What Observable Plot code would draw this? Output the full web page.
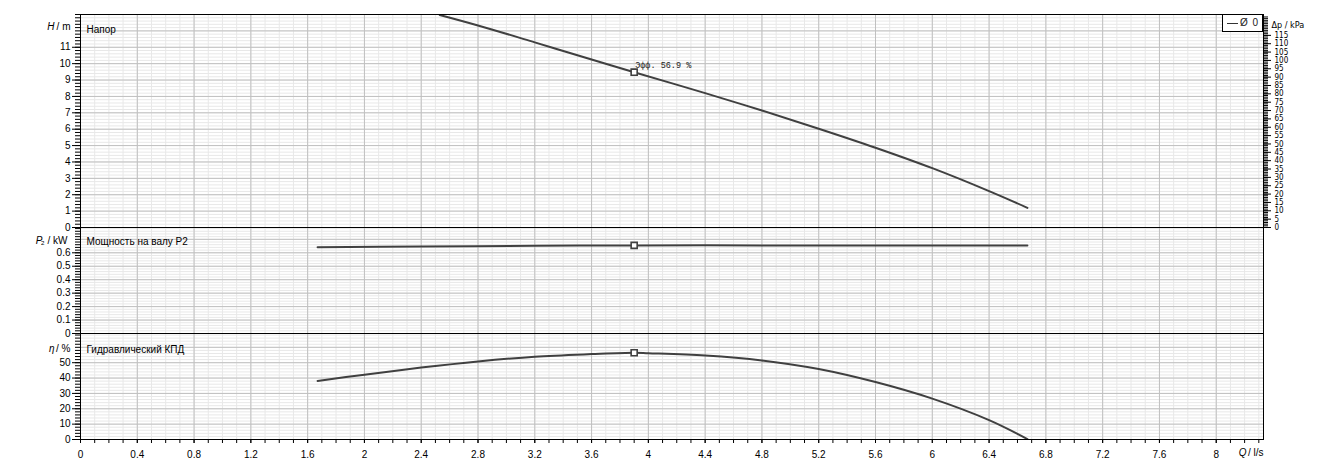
<!DOCTYPE html>
<html><head><meta charset="utf-8">
<script src="https://cdn.jsdelivr.net/npm/d3@7"></script>
<script src="https://cdn.jsdelivr.net/npm/@observablehq/plot@0.6"></script>
<style>
body{margin:0;background:#fff;}
#wrap{position:relative;width:1344px;height:473px;overflow:hidden;}
#wrap svg{display:block;}
#legend{position:absolute;z-index:5;left:1222px;top:14px;width:41px;height:18px;border:1px solid #000;box-sizing:border-box;background:#fff;font:10px "Liberation Sans",Arial,sans-serif;color:#222;}
#legend .ln{position:absolute;left:4px;top:8px;width:11px;height:0;border-top:1px solid #333;}
#legend .tx{position:absolute;left:17px;top:2px;letter-spacing:1px;}
</style></head>
<body>
<div id="wrap"><div id="legend"><span class="ln"></span><span class="tx">Ø 0</span></div></div>
<script>
// ---- data ----
const Q_MAX = 8.333;
const H_MAX = 13;
const P_MAX = 0.788;
const ETA_MAX = 69;
const KPA_PER_M = 9.80665;

const headQ = [2.53, 2.8, 3.2, 3.6, 3.9, 4.4, 4.8, 5.2, 5.6, 6.0, 6.4, 6.67];
const headH = [12.97, 12.33, 11.3, 10.25, 9.48, 8.2, 7.14, 6.03, 4.87, 3.62, 2.22, 1.2];
const powerQ = [1.67, 2.4, 3.2, 3.9, 4.8, 5.6, 6.67];
const powerP = [0.642, 0.647, 0.652, 0.655, 0.655, 0.655, 0.654];
const effQ = [1.67, 2.0, 2.4, 2.8, 3.2, 3.6, 3.9, 4.0, 4.4, 4.8, 5.2, 5.6, 6.0, 6.4, 6.67];
const effEta = [38.1, 42.2, 46.8, 50.8, 53.9, 55.6, 56.5, 56.2, 54.7, 51.5, 45.9, 37.4, 26.6, 12.6, 0.3];
const dutyQ = [3.9];
const dutyH = [9.48];
const dutyP = [0.655];
const dutyEta = [56.5];
const dutyLabel = "Эфф. 56.9 %";

const qTicks = [0, 0.4, 0.8, 1.2, 1.6, 2, 2.4, 2.8, 3.2, 3.6, 4, 4.4, 4.8, 5.2, 5.6, 6, 6.4, 6.8, 7.2, 7.6, 8];
const hTicks = [0, 1, 2, 3, 4, 5, 6, 7, 8, 9, 10, 11];
const pTicks = [0, 0.1, 0.2, 0.3, 0.4, 0.5, 0.6];
const etaTicks = [0, 10, 20, 30, 40, 50];
const kpaTicks = [0, 5, 10, 15, 20, 25, 30, 35, 40, 45, 50, 55, 60, 65, 70, 75, 80, 85, 90, 95, 100, 105, 110, 115];

const titles = ["Напор", "Мощность на валу P2", "Гидравлический КПД"];

// ---- helpers ----
const FONT = '"Liberation Sans", Arial, sans-serif';
const NARROW = '"Liberation Sans Narrow", "DejaVu Sans Condensed", "Liberation Sans", sans-serif';
const MONO = '"Liberation Mono", "DejaVu Sans Mono", monospace';
const LINE = "#404040";
const MAJOR = "#c0c0c0";
const MINOR = "#e8e8e8";
const W = 1344, ML = 80, MR = 81;

const qMinor = d3.range(0, 84).map(i => i / 10);
const hMinor = d3.range(0, 66).map(i => i / 5);
const pMinor = d3.range(0, 40).map(i => i / 50);
const etaMinor = d3.range(0, 35).map(i => i * 2);
const kpaMinor = d3.range(0, 127);

const zip = (a, b, k1, k2) => a.map((v, i) => ({[k1]: v, [k2]: b[i]}));

function gridMarks(yMinor, yMajor) {
  return [
    Plot.ruleX(qMinor, {stroke: MINOR}),
    Plot.ruleY(yMinor, {stroke: MINOR}),
    Plot.ruleX(qTicks, {stroke: MAJOR}),
    Plot.ruleY(yMajor, {stroke: MAJOR})
  ];
}
function leftAxis(ticks, minor) {
  return [
    Plot.axisY(minor, {anchor: "left", tickSize: 5, tickFormat: () => "", label: null}),
    Plot.axisY(ticks, {anchor: "left", tickSize: 8, tickPadding: 2, tickFormat: d => String(d), label: null})
  ];
}
const style = {fontFamily: FONT, fontSize: "10px", background: "transparent", color: "#000", overflow: "visible"};

const wrap = document.getElementById("wrap");

// ---- top: head ----
const headRows = zip(headQ, headH, "q", "v");
const headPlot = Plot.plot({
  width: W, height: 227, marginLeft: ML, marginRight: MR, marginTop: 14, marginBottom: 0,
  x: {domain: [0, Q_MAX], axis: null}, y: {domain: [0, H_MAX]}, style,
  marks: [
    ...gridMarks(hMinor, hTicks.concat([12, 13])),
    Plot.line(headRows, {x: "q", y: "v", stroke: LINE, strokeWidth: 2, curve: "catmull-rom"}),
    Plot.dot(dutyQ, {x: d => d, y: (d, i) => dutyH[i], symbol: "square", r: 3.4, fill: "white", stroke: LINE, strokeWidth: 1.6}),
    Plot.text(dutyQ, {x: d => d, y: (d, i) => dutyH[i], text: () => dutyLabel, dx: 1, dy: -7, textAnchor: "start", fontFamily: MONO, fontSize: 8.5, fill: "#222"}),
    ...leftAxis(hTicks, hMinor),
    Plot.axisY(kpaMinor.map(k => k / KPA_PER_M), {anchor: "right", tickSize: 4, tickFormat: () => "", label: null}),
    Plot.axisY(kpaTicks.map(k => k / KPA_PER_M), {anchor: "right", tickSize: 7, tickFormat: () => "", label: null}),
    Plot.text(kpaTicks, {frameAnchor: "right", y: k => k / KPA_PER_M, text: k => String(k), dx: 11, textAnchor: "start", fontFamily: NARROW, fontSize: 8}),
    Plot.text(["Δp / kPa"], {frameAnchor: "top-right", dx: 8, dy: 7, textAnchor: "start", fontFamily: NARROW, fontSize: 9}),
    Plot.text(["H"], {frameAnchor: "top-left", dx: -26, dy: 8, textAnchor: "end", fontStyle: "italic"}),
    Plot.text(["/ m"], {frameAnchor: "top-left", dx: -10, dy: 8, textAnchor: "end"}),
    Plot.text([titles[0]], {frameAnchor: "top-left", dx: 6, dy: 11, textAnchor: "start"}),
    Plot.frame({stroke: "#000"})
  ]
});
wrap.appendChild(headPlot);

// ---- middle: power ----
const powerRows = zip(powerQ, powerP, "q", "v");
const powerPlot = Plot.plot({
  width: W, height: 106, marginLeft: ML, marginRight: MR, marginTop: 0, marginBottom: 0,
  x: {domain: [0, Q_MAX], axis: null}, y: {domain: [0, P_MAX]}, style,
  marks: [
    ...gridMarks(pMinor, pTicks.concat([0.7])),
    Plot.line(powerRows, {x: "q", y: "v", stroke: LINE, strokeWidth: 2, curve: "catmull-rom"}),
    Plot.dot(dutyQ, {x: d => d, y: (d, i) => dutyP[i], symbol: "square", r: 3.4, fill: "white", stroke: LINE, strokeWidth: 1.6}),
    ...leftAxis(pTicks, pMinor),
    Plot.text(["P"], {frameAnchor: "top-left", dx: -38, dy: 9, textAnchor: "end", fontStyle: "italic"}),
    Plot.text(["₂ / kW"], {frameAnchor: "top-left", dx: -13, dy: 9, textAnchor: "end"}),
    Plot.text([titles[1]], {frameAnchor: "top-left", dx: 6, dy: 10, textAnchor: "start"}),
    Plot.frame({stroke: "#000"})
  ]
});
wrap.appendChild(powerPlot);

// ---- bottom: efficiency ----
const effRows = zip(effQ, effEta, "q", "v");
const effPlot = Plot.plot({
  width: W, height: 140, marginLeft: ML, marginRight: MR, marginTop: 0, marginBottom: 34,
  x: {domain: [0, Q_MAX]}, y: {domain: [0, ETA_MAX]}, style,
  marks: [
    ...gridMarks(etaMinor, etaTicks.concat([60])),
    Plot.line(effRows, {x: "q", y: "v", stroke: LINE, strokeWidth: 2, curve: "catmull-rom"}),
    Plot.dot(dutyQ, {x: d => d, y: (d, i) => dutyEta[i], symbol: "square", r: 3.4, fill: "white", stroke: LINE, strokeWidth: 1.6}),
    ...leftAxis(etaTicks, etaMinor),
    Plot.axisX(qMinor, {anchor: "bottom", tickSize: 4, tickFormat: () => "", label: null}),
    Plot.axisX(qTicks, {anchor: "bottom", tickSize: 4, tickPadding: 7, tickFormat: d => String(d), label: null}),
    Plot.text(["η"], {frameAnchor: "top-left", dx: -26, dy: 11, textAnchor: "end", fontStyle: "italic"}),
    Plot.text(["/ %"], {frameAnchor: "top-left", dx: -10, dy: 11, textAnchor: "end"}),
    Plot.text([titles[2]], {frameAnchor: "top-left", dx: 6, dy: 12, textAnchor: "start"}),
    Plot.text(["Q"], {frameAnchor: "bottom-right", dx: -17, dy: 16, textAnchor: "end", fontStyle: "italic"}),
    Plot.text(["/ l/s"], {frameAnchor: "bottom-right", dx: 0, dy: 16, textAnchor: "end"}),
    Plot.frame({stroke: "#000"})
  ]
});
wrap.appendChild(effPlot);
</script>
</body></html>
